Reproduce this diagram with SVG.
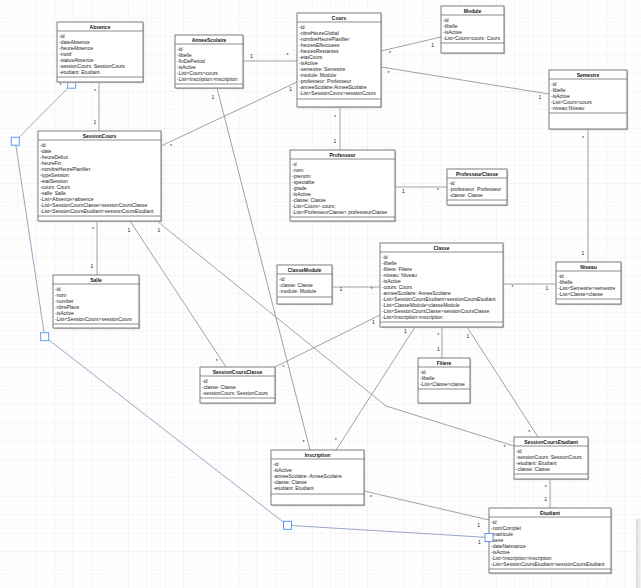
<svg xmlns="http://www.w3.org/2000/svg" width="641" height="588" viewBox="0 0 641 588">
<defs>
<pattern id="gmin" width="4.6" height="4.6" patternUnits="userSpaceOnUse">
<path d="M4.6 0V4.6H0" fill="none" stroke="#f1f1f1" stroke-width="0.5"/>
</pattern>
<pattern id="gmaj" width="18.4" height="18.4" patternUnits="userSpaceOnUse">
<rect width="18.4" height="18.4" fill="url(#gmin)"/>
<path d="M18.4 0V18.4H0" fill="none" stroke="#e2e2e2" stroke-width="0.5"/>
</pattern>
<linearGradient id="panel" x1="0" y1="0" x2="1" y2="0">
<stop offset="0" stop-color="#d9d9d9"/>
<stop offset="1" stop-color="#f6f6f6"/>
</linearGradient>
</defs>
<style>
.box{fill:#fff;stroke:#6e6e6e;stroke-width:0.9}
.sh{fill:#c9c9c9}
.sep{stroke:#6e6e6e;stroke-width:0.8}
.t{font-family:"Liberation Sans",Arial,sans-serif;font-size:5px;font-weight:bold;text-anchor:middle;fill:#111}
.a{font-family:"Liberation Sans",Arial,sans-serif;font-size:5px;fill:#222}
.c{fill:none;stroke:#8a8a8a;stroke-width:0.8}
.sel{fill:none;stroke:#8c9dbd;stroke-width:0.9}
.h{fill:#fff;stroke:#4a92f5;stroke-width:0.9}
.l{font-family:"Liberation Sans",Arial,sans-serif;font-size:5px;text-anchor:middle;fill:#222}
</style>
<rect width="641" height="588" fill="#fff"/>
<rect width="641" height="588" fill="url(#gmaj)"/>
<rect x="636" y="519" width="5" height="69" fill="url(#panel)"/>

<g id="connectors">
<line class="c" x1="99" y1="82" x2="99" y2="131"/>
<line class="c" x1="243" y1="61" x2="297" y2="61"/>
<line class="c" x1="381" y1="51" x2="441" y2="37"/>
<line class="c" x1="381" y1="67" x2="549" y2="94"/>
<line class="c" x1="297" y1="82" x2="161" y2="146"/>
<line class="c" x1="340" y1="107" x2="340" y2="150"/>
<line class="c" x1="217" y1="88" x2="310" y2="450"/>
<line class="c" x1="395" y1="187" x2="447" y2="187"/>
<line class="c" x1="588" y1="129" x2="588" y2="262"/>
<line class="c" x1="97" y1="221" x2="97" y2="275"/>
<line class="c" x1="130" y1="221" x2="226" y2="367"/>
<polyline class="c" points="157,221 386,406 514,446"/>
<line class="c" x1="503" y1="284" x2="556" y2="284"/>
<line class="c" x1="332" y1="287" x2="380" y2="287"/>
<line class="c" x1="442" y1="327" x2="442" y2="358"/>
<line class="c" x1="275" y1="367" x2="380" y2="315"/>
<line class="c" x1="415" y1="327" x2="336" y2="450"/>
<line class="c" x1="467" y1="327" x2="538" y2="437"/>
<line class="c" x1="550" y1="479" x2="550" y2="508"/>
<line class="c" x1="364" y1="491" x2="489" y2="520"/>
<polyline class="sel" points="71.7,84.2 15.3,141.2 44.7,336.7 287.5,525.3 489,537.5"/>
<rect class="h" x="67.7" y="80.2" width="8" height="8"/>
<rect class="h" x="11.3" y="137.2" width="8" height="8"/>
<rect class="h" x="40.7" y="332.7" width="8" height="8"/>
<rect class="h" x="283.5" y="521.3" width="8" height="8"/>
<text class="l" x="95" y="92.7">*</text><text class="l" x="95" y="123.5">1</text>
<text class="l" x="251.5" y="58.1">1</text><text class="l" x="287.5" y="57.4">*</text>
<text class="l" x="390" y="54.7">*</text><text class="l" x="432.7" y="46.5">1</text>
<text class="l" x="388.5" y="74.7">*</text><text class="l" x="540" y="99.1">1</text>
<text class="l" x="290.7" y="90.8">1</text><text class="l" x="171" y="147.7">*</text>
<text class="l" x="335" y="118.7">*</text><text class="l" x="335" y="143.3">1</text>
<text class="l" x="213" y="98.8">1</text><text class="l" x="303.5" y="444.2">*</text>
<text class="l" x="403.3" y="192.5">1</text><text class="l" x="438" y="191.7">*</text>
<text class="l" x="583" y="140.2">*</text><text class="l" x="583" y="254.8">1</text>
<text class="l" x="93.3" y="230.7">*</text><text class="l" x="92" y="267.8">1</text>
<text class="l" x="129" y="231.8">1</text><text class="l" x="216.7" y="363.4">*</text>
<text class="l" x="159" y="232.3">1</text><text class="l" x="504.5" y="449.2">*</text>
<text class="l" x="512.5" y="289.2">*</text><text class="l" x="547" y="290.3">1</text>
<text class="l" x="341" y="290.8">1</text><text class="l" x="371.5" y="291.2">*</text>
<text class="l" x="438.3" y="337.2">*</text><text class="l" x="438.3" y="351.3">1</text>
<text class="l" x="283.3" y="369.4">*</text><text class="l" x="373.5" y="323.8">1</text>
<text class="l" x="405.5" y="332.8">1</text><text class="l" x="335.7" y="441.7">*</text>
<text class="l" x="468" y="337.8">1</text><text class="l" x="529.3" y="434.4">*</text>
<text class="l" x="545.7" y="489.4">*</text><text class="l" x="545.7" y="501.1">1</text>
<text class="l" x="371" y="499.4">*</text><text class="l" x="478.7" y="527.1">1</text>
<text class="l" x="60.5" y="87.2">*</text><text class="l" x="479.3" y="543.5">1</text>
</g>

<g id="absence" transform="translate(57,22)">
<rect class="sh" x="1.2" y="1.2" width="86" height="60"/>
<rect class="box" width="86" height="60"/>
<line class="sep" x1="0" y1="9" x2="86" y2="9"/><line class="sep" x1="0" y1="55" x2="86" y2="55"/>
<text class="t" x="43" y="7">Absence</text>
<text class="a" x="2" y="15.5"><tspan x="2">-id</tspan><tspan x="2" dy="6">-dateAbsence</tspan><tspan x="2" dy="6">-heureAbsence</tspan><tspan x="2" dy="6">-motif</tspan><tspan x="2" dy="6">-statusAbsence</tspan><tspan x="2" dy="6">-sessionCours: SessionCours</tspan><tspan x="2" dy="6">-etudiant: Etudiant</tspan></text>
</g>

<g id="anneescolaire" transform="translate(175,35)">
<rect class="sh" x="1.2" y="1.2" width="68" height="53"/>
<rect class="box" width="68" height="53"/>
<line class="sep" x1="0" y1="9" x2="68" y2="9"/><line class="sep" x1="0" y1="49" x2="68" y2="49"/>
<text class="t" x="34" y="7">AnneeScolaire</text>
<text class="a" x="2" y="15.5"><tspan x="2">-id</tspan><tspan x="2" dy="6">-libelle</tspan><tspan x="2" dy="6">-finDePeriod</tspan><tspan x="2" dy="6">-isActive</tspan><tspan x="2" dy="6">-List&lt;Cours&gt;cours</tspan><tspan x="2" dy="6">-List&lt;Inscription&gt;inscription</tspan></text>
</g>

<g id="cours" transform="translate(297,13)">
<rect class="sh" x="1.2" y="1.2" width="84" height="94"/>
<rect class="box" width="84" height="94"/>
<line class="sep" x1="0" y1="9" x2="84" y2="9"/><line class="sep" x1="0" y1="86" x2="84" y2="86"/>
<text class="t" x="42" y="7">Cours</text>
<text class="a" x="2" y="15.5"><tspan x="2">-id</tspan><tspan x="2" dy="6">-nbreHeureGlobal</tspan><tspan x="2" dy="6">-nombreHeurePlanifier</tspan><tspan x="2" dy="6">-heuresEffectuees</tspan><tspan x="2" dy="6">-heuresRestantes</tspan><tspan x="2" dy="6">-etatCours</tspan><tspan x="2" dy="6">-isActive</tspan><tspan x="2" dy="6">-semestre: Semestre</tspan><tspan x="2" dy="6">-module: Module</tspan><tspan x="2" dy="6">-professeur: Professeur</tspan><tspan x="2" dy="6">-anneeScolaire:AnneeScolaire</tspan><tspan x="2" dy="6">-List&lt;SessionCours&gt;sessionCours</tspan></text>
</g>

<g id="module" transform="translate(441,6)">
<rect class="sh" x="1.2" y="1.2" width="63" height="47"/>
<rect class="box" width="63" height="47"/>
<line class="sep" x1="0" y1="9" x2="63" y2="9"/><line class="sep" x1="0" y1="37" x2="63" y2="37"/>
<text class="t" x="31.5" y="7">Module</text>
<text class="a" x="2" y="15.5"><tspan x="2">-id</tspan><tspan x="2" dy="6">-libelle</tspan><tspan x="2" dy="6">-isActive</tspan><tspan x="2" dy="6">-List&lt;Cours&gt;cours: Cours</tspan></text>
</g>

<g id="semestre" transform="translate(549,70)">
<rect class="sh" x="1.2" y="1.2" width="78" height="59"/>
<rect class="box" width="78" height="59"/>
<line class="sep" x1="0" y1="9" x2="78" y2="9"/><line class="sep" x1="0" y1="43" x2="78" y2="43"/>
<text class="t" x="39" y="7">Semestre</text>
<text class="a" x="2" y="15.5"><tspan x="2">-id</tspan><tspan x="2" dy="6">-libelle</tspan><tspan x="2" dy="6">-isActive</tspan><tspan x="2" dy="6">-List&lt;Cours&gt;cours</tspan><tspan x="2" dy="6">-niveau:Niveau</tspan></text>
</g>

<g id="sessioncours" transform="translate(38,131)">
<rect class="sh" x="1.2" y="1.2" width="123" height="90"/>
<rect class="box" width="123" height="90"/>
<line class="sep" x1="0" y1="9" x2="123" y2="9"/><line class="sep" x1="0" y1="85" x2="123" y2="85"/>
<text class="t" x="61.5" y="7">SessionCours</text>
<text class="a" x="2" y="15.5"><tspan x="2">-id</tspan><tspan x="2" dy="6">-date</tspan><tspan x="2" dy="6">-heureDebut</tspan><tspan x="2" dy="6">-heureFin</tspan><tspan x="2" dy="6">-nombreHeurePlanifier</tspan><tspan x="2" dy="6">-typeSession</tspan><tspan x="2" dy="6">-etatSession</tspan><tspan x="2" dy="6">-cours: Cours</tspan><tspan x="2" dy="6">-salle: Salle</tspan><tspan x="2" dy="6">-List&lt;Absence&gt;absence</tspan><tspan x="2" dy="6">-List&lt;SessionCoursClasse&gt;sessionCoursClasse</tspan><tspan x="2" dy="6">-List&lt;SessionCoursEtudiant&gt;sessionCoursEtudiant</tspan></text>
</g>

<g id="professeur" transform="translate(290,150)">
<rect class="sh" x="1.2" y="1.2" width="105" height="71"/>
<rect class="box" width="105" height="71"/>
<line class="sep" x1="0" y1="9" x2="105" y2="9"/><line class="sep" x1="0" y1="67" x2="105" y2="67"/>
<text class="t" x="52.5" y="7">Professeur</text>
<text class="a" x="2" y="15.5"><tspan x="2">-d</tspan><tspan x="2" dy="6">-nom</tspan><tspan x="2" dy="6">-prenom</tspan><tspan x="2" dy="6">-specialite</tspan><tspan x="2" dy="6">-grade</tspan><tspan x="2" dy="6">-isActive</tspan><tspan x="2" dy="6">-classe: Classe</tspan><tspan x="2" dy="6">-List&lt;Cours&gt; cours;</tspan><tspan x="2" dy="6">-List&lt;ProfesseurClasse&gt; professeurClasse</tspan></text>
</g>

<g id="professeurclasse" transform="translate(447,169)">
<rect class="sh" x="1.2" y="1.2" width="60" height="36"/>
<rect class="box" width="60" height="36"/>
<line class="sep" x1="0" y1="9" x2="60" y2="9"/><line class="sep" x1="0" y1="31" x2="60" y2="31"/>
<text class="t" x="30" y="7">ProfesseurClasse</text>
<text class="a" x="2" y="15.5"><tspan x="2">-id</tspan><tspan x="2" dy="6">-professeur: Professeur</tspan><tspan x="2" dy="6">-classe: Classe</tspan></text>
</g>

<g id="salle" transform="translate(53,275)">
<rect class="sh" x="1.2" y="1.2" width="86" height="53"/>
<rect class="box" width="86" height="53"/>
<line class="sep" x1="0" y1="9" x2="86" y2="9"/><line class="sep" x1="0" y1="49" x2="86" y2="49"/>
<text class="t" x="43" y="7">Salle</text>
<text class="a" x="2" y="15.5"><tspan x="2">-id</tspan><tspan x="2" dy="6">-nom</tspan><tspan x="2" dy="6">-number</tspan><tspan x="2" dy="6">-nbrePlace</tspan><tspan x="2" dy="6">-isActive</tspan><tspan x="2" dy="6">-List&lt;SessionCours&gt;sessionCours</tspan></text>
</g>

<g id="classemodule" transform="translate(277,265)">
<rect class="sh" x="1.2" y="1.2" width="55" height="39"/>
<rect class="box" width="55" height="39"/>
<line class="sep" x1="0" y1="9" x2="55" y2="9"/><line class="sep" x1="0" y1="32" x2="55" y2="32"/>
<text class="t" x="27.5" y="7">ClasseModule</text>
<text class="a" x="2" y="15.5"><tspan x="2">-id</tspan><tspan x="2" dy="6">-classe: Classe</tspan><tspan x="2" dy="6">-module: Module</tspan></text>
</g>

<g id="classe" transform="translate(380,243)">
<rect class="sh" x="1.2" y="1.2" width="123" height="84"/>
<rect class="box" width="123" height="84"/>
<line class="sep" x1="0" y1="9" x2="123" y2="9"/><line class="sep" x1="0" y1="79" x2="123" y2="79"/>
<text class="t" x="61.5" y="7">Classe</text>
<text class="a" x="2" y="15.5"><tspan x="2">-id</tspan><tspan x="2" dy="6">-libelle</tspan><tspan x="2" dy="6">-filiere: Filiere</tspan><tspan x="2" dy="6">-niveau: Niveau</tspan><tspan x="2" dy="6">-isActive</tspan><tspan x="2" dy="6">-cours: Cours</tspan><tspan x="2" dy="6">-anneeScolaire: AnneeScolaire</tspan><tspan x="2" dy="6">-List&lt;SessionCoursEtudiant&gt;sessionCoursEtudiant</tspan><tspan x="2" dy="6">-List&lt;ClasseModule&gt;classeModule</tspan><tspan x="2" dy="6">-List&lt;SessionCoursClasse&gt;sessionCoursClasse</tspan><tspan x="2" dy="6">-List&lt;Inscription&gt;inscription</tspan></text>
</g>

<g id="niveau" transform="translate(556,262)">
<rect class="sh" x="1.2" y="1.2" width="65" height="42"/>
<rect class="box" width="65" height="42"/>
<line class="sep" x1="0" y1="9" x2="65" y2="9"/><line class="sep" x1="0" y1="37" x2="65" y2="37"/>
<text class="t" x="32.5" y="7">Niveau</text>
<text class="a" x="2" y="15.5"><tspan x="2">-id</tspan><tspan x="2" dy="6">-libelle</tspan><tspan x="2" dy="6">-List&lt;Semestre&gt;semestre</tspan><tspan x="2" dy="6">-List&lt;Classe&gt;classe</tspan></text>
</g>

<g id="sessioncoursclasse" transform="translate(200,367)">
<rect class="sh" x="1.2" y="1.2" width="75" height="36"/>
<rect class="box" width="75" height="36"/>
<line class="sep" x1="0" y1="9" x2="75" y2="9"/><line class="sep" x1="0" y1="31" x2="75" y2="31"/>
<text class="t" x="37.5" y="7">SessionCoursClasse</text>
<text class="a" x="2" y="15.5"><tspan x="2">-id</tspan><tspan x="2" dy="6">-classe: Classe</tspan><tspan x="2" dy="6">-sessionCours: SessionCours</tspan></text>
</g>

<g id="filiere" transform="translate(418,358)">
<rect class="sh" x="1.2" y="1.2" width="52" height="45"/>
<rect class="box" width="52" height="45"/>
<line class="sep" x1="0" y1="9" x2="52" y2="9"/><line class="sep" x1="0" y1="31" x2="52" y2="31"/>
<text class="t" x="26" y="7">Filiere</text>
<text class="a" x="2" y="15.5"><tspan x="2">-id</tspan><tspan x="2" dy="6">-libelle</tspan><tspan x="2" dy="6">-List&lt;Classe&gt;classe</tspan></text>
</g>

<g id="inscription" transform="translate(271,450)">
<rect class="sh" x="1.2" y="1.2" width="93" height="55"/>
<rect class="box" width="93" height="55"/>
<line class="sep" x1="0" y1="9" x2="93" y2="9"/><line class="sep" x1="0" y1="44" x2="93" y2="44"/>
<text class="t" x="46.5" y="7">Inscription</text>
<text class="a" x="2" y="15.5"><tspan x="2">-id</tspan><tspan x="2" dy="6">-isActive</tspan><tspan x="2" dy="6">-anneeScolaire: AnneeScolaire</tspan><tspan x="2" dy="6">-classe: Classe</tspan><tspan x="2" dy="6">-etudiant: Etudiant</tspan></text>
</g>

<g id="sessioncoursetudiant" transform="translate(514,437)">
<rect class="sh" x="1.2" y="1.2" width="74" height="42"/>
<rect class="box" width="74" height="42"/>
<line class="sep" x1="0" y1="9" x2="74" y2="9"/><line class="sep" x1="0" y1="37" x2="74" y2="37"/>
<text class="t" x="37" y="7">SessionCoursEtudiant</text>
<text class="a" x="2" y="15.5"><tspan x="2">-id</tspan><tspan x="2" dy="6">-sessionCours: SessionCours</tspan><tspan x="2" dy="6">-etudiant: Etudiant</tspan><tspan x="2" dy="6">-classe: Classe</tspan></text>
</g>

<g id="etudiant" transform="translate(489,508)">
<rect class="sh" x="1.2" y="1.2" width="122" height="65"/>
<rect class="box" width="122" height="65"/>
<line class="sep" x1="0" y1="9" x2="122" y2="9"/><line class="sep" x1="0" y1="61" x2="122" y2="61"/>
<text class="t" x="61" y="7">Etudiant</text>
<text class="a" x="2" y="15.5"><tspan x="2">-id</tspan><tspan x="2" dy="6">-nomComplet</tspan><tspan x="2" dy="6">-matricule</tspan><tspan x="2" dy="6">-sexe</tspan><tspan x="2" dy="6">-dateNaissance</tspan><tspan x="2" dy="6">-isActive</tspan><tspan x="2" dy="6">-List&lt;Inscription&gt;inscription</tspan><tspan x="2" dy="6">-List&lt;SessionCoursEtudiant&gt;sessionCoursEtudiant</tspan></text>
</g>

<g id="handles">
<rect class="h" x="485" y="533.5" width="8" height="8"/>
</g>
</svg>
